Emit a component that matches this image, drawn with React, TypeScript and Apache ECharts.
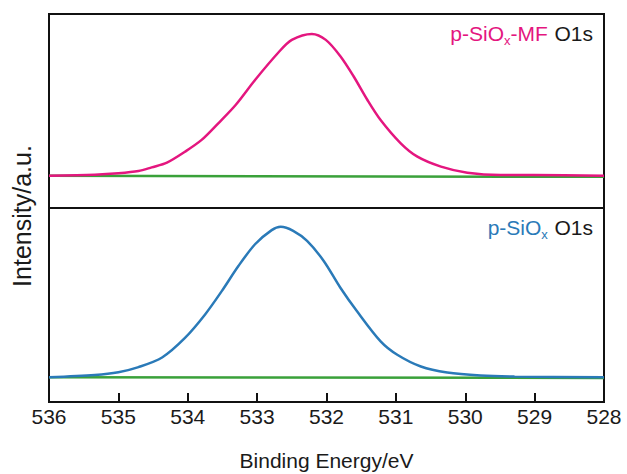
import React, { useEffect, useRef } from "react";
import * as echarts from "echarts";

// Top panel: p-SiOx-MF O1s (binding energy eV, intensity a.u.)
const mfEnergy = [536.0, 535.34, 535.0, 534.71, 534.52, 534.3, 534.04, 533.8, 533.56, 533.31, 533.03, 532.69, 532.5, 532.21, 532.01, 531.8, 531.61, 531.41, 531.22, 530.93, 530.69, 530.35, 529.97, 529.49, 529.01, 528.0];
const mfIntensity = [0.2, 0.9, 1.9, 3.5, 6.1, 9.4, 17.1, 25.4, 37.1, 50, 67.6, 87.1, 95.8, 100, 95.8, 84.3, 70.2, 53.5, 39.4, 23.0, 13.6, 6.6, 2.3, 0.7, 0.7, 0.2];
const mfBaseline = [0.2, -0.6];

// Bottom panel: p-SiOx O1s
const sEnergy = [536.0, 535.34, 535.0, 534.71, 534.37, 534.04, 533.75, 533.51, 533.27, 533.03, 532.79, 532.66, 532.48, 532.28, 532.04, 531.8, 531.56, 531.22, 530.98, 530.64, 530.26, 529.78, 529.29, 528.0];
const sIntensity = [0, 1.5, 3.3, 6.7, 13.1, 26.1, 41.7, 57.2, 73.9, 88.4, 97.8, 100, 97.3, 90.6, 77.3, 59.5, 43.8, 23.8, 14.9, 7.1, 3.1, 1.1, 0.4, 0];
const sBaseline = [0, -0.5];

const baseEnergy = [536, 528];

const PINK = "#e4167f";
const BLUE = "#2a7ab8";
const GREEN = "#3aa13a";
const FONT = "Liberation Sans, Arial, sans-serif";

const zip = (xs: number[], ys: number[]) => xs.map((x, i) => [x, ys[i]]);

export default function App() {
  const ref = useRef<HTMLDivElement>(null);
  useEffect(() => {
    if (!ref.current) return;
    const chart = echarts.init(ref.current, undefined, { renderer: "svg" });
    chart.setOption({
      animation: false,
      backgroundColor: "#fff",
      grid: [
        { left: 49, right: 23, top: 14, height: 194, show: true, borderColor: "#111", borderWidth: 2 },
        { left: 49, right: 23, top: 208, height: 194, show: true, borderColor: "#111", borderWidth: 2 },
      ],
      xAxis: [
        { type: "value", min: 528, max: 536, interval: 1, inverse: true, gridIndex: 0, show: false },
        {
          type: "value",
          min: 528,
          max: 536,
          interval: 1,
          inverse: true,
          gridIndex: 1,
          axisLine: { show: true, onZero: true, onZeroAxisIndex: 2, lineStyle: { color: "#111", width: 2 } },
          axisTick: { show: true, inside: true, length: 9, lineStyle: { color: "#111", width: 2 } },
          splitLine: { show: false },
          axisLabel: { margin: 4, fontSize: 21, color: "#1a1a1a", fontFamily: FONT },
          name: "Binding Energy/eV",
          nameLocation: "middle",
          nameGap: 48,
          nameTextStyle: { fontSize: 21, color: "#1a1a1a", fontFamily: FONT },
        },
      ],
      yAxis: [
        { type: "value", gridIndex: 0, min: -22.5, max: 114, show: false },
        { type: "value", gridIndex: 1, min: -16.5, max: 112.5, show: false },
        { type: "value", gridIndex: 1, min: 0, max: 1, show: false },
      ],
      series: [
        { type: "line", xAxisIndex: 0, yAxisIndex: 0, data: zip(baseEnergy, mfBaseline), showSymbol: false, lineStyle: { color: GREEN, width: 2.5 } },
        { type: "line", xAxisIndex: 0, yAxisIndex: 0, data: zip(mfEnergy, mfIntensity), showSymbol: false, smooth: 0.3, lineStyle: { color: PINK, width: 2.5 } },
        { type: "line", xAxisIndex: 1, yAxisIndex: 1, data: zip(baseEnergy, sBaseline), showSymbol: false, lineStyle: { color: GREEN, width: 2.5 } },
        { type: "line", xAxisIndex: 1, yAxisIndex: 1, data: zip(sEnergy, sIntensity), showSymbol: false, smooth: 0.3, lineStyle: { color: BLUE, width: 2.5 } },
      ],
      graphic: [
        {
          type: "text",
          x: 22,
          y: 216,
          rotation: Math.PI / 2,
          style: { text: "Intensity/a.u.", fontSize: 25, fill: "#1a1a1a", fontFamily: FONT, align: "center", verticalAlign: "middle" },
        },
        {
          type: "text",
          x: 593,
          y: 33,
          style: {
            text: "{a|p-SiO}{s|x}{a|-MF}  {k|O1s}",
            align: "right",
            verticalAlign: "middle",
            fontFamily: FONT,
            rich: {
              a: { fontSize: 21, fill: PINK, fontFamily: FONT, lineHeight: 28, verticalAlign: "middle" },
              s: { fontSize: 13, fill: PINK, fontFamily: FONT, lineHeight: 28, verticalAlign: "bottom" },
              k: { fontSize: 21, fill: "#1a1a1a", fontFamily: FONT, lineHeight: 28, verticalAlign: "middle" },
            },
          },
        },
        {
          type: "text",
          x: 593,
          y: 227,
          style: {
            text: "{a|p-SiO}{s|x}  {k|O1s}",
            align: "right",
            verticalAlign: "middle",
            fontFamily: FONT,
            rich: {
              a: { fontSize: 21, fill: BLUE, fontFamily: FONT, lineHeight: 28, verticalAlign: "middle" },
              s: { fontSize: 13, fill: BLUE, fontFamily: FONT, lineHeight: 28, verticalAlign: "bottom" },
              k: { fontSize: 21, fill: "#1a1a1a", fontFamily: FONT, lineHeight: 28, verticalAlign: "middle" },
            },
          },
        },
      ],
    });
    return () => chart.dispose();
  }, []);
  return <div ref={ref} style={{ position: "fixed", left: 0, top: 0, width: 627, height: 474 }} />;
}
